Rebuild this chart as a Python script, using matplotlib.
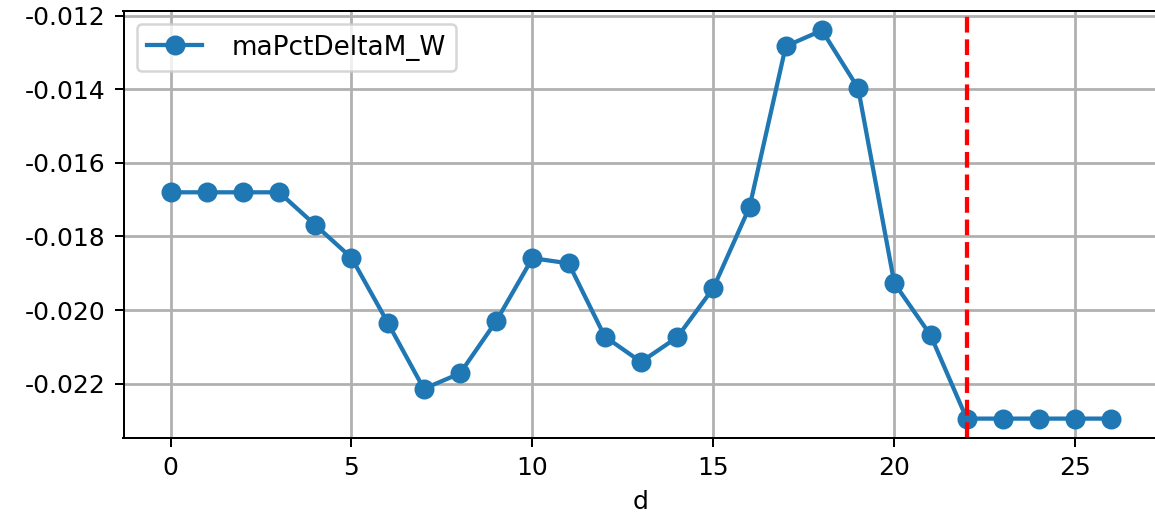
import matplotlib.pyplot as plt
import numpy as np

plt.rcParams['axes.unicode_minus'] = False

# values
d = np.arange(27)
ma_pct_delta = [-0.01680, -0.01680, -0.01680, -0.01680, -0.01769, -0.01858,
                -0.02034, -0.02214, -0.02172, -0.02030, -0.01859, -0.01873,
                -0.02072, -0.02141, -0.02074, -0.01940, -0.01720, -0.01283,
                -0.01240, -0.01397, -0.01927, -0.02068, -0.02295, -0.02295,
                -0.02295, -0.02295, -0.02295]
cutoff = 22
series_name = 'maPctDeltaM_W'

fig = plt.figure(figsize=(1155 / 180, 518 / 180), dpi=180)
ax = fig.add_axes([123.5 / 1155, 0.1544, 1035 / 1155, 0.8244])

ax.plot(d, ma_pct_delta, marker='o', markersize=7, linewidth=1.7,
        color='#1f77b4', label=series_name)
ax.axvline(cutoff, color='red', linestyle='--', linewidth=1.7)

ax.set_xlabel('d')
ax.grid(True, linewidth=1.1)
ax.legend(loc='upper left', fontsize=10.5, handlelength=2.1, handletextpad=1.1)

fig.savefig('out.png', dpi=180)
